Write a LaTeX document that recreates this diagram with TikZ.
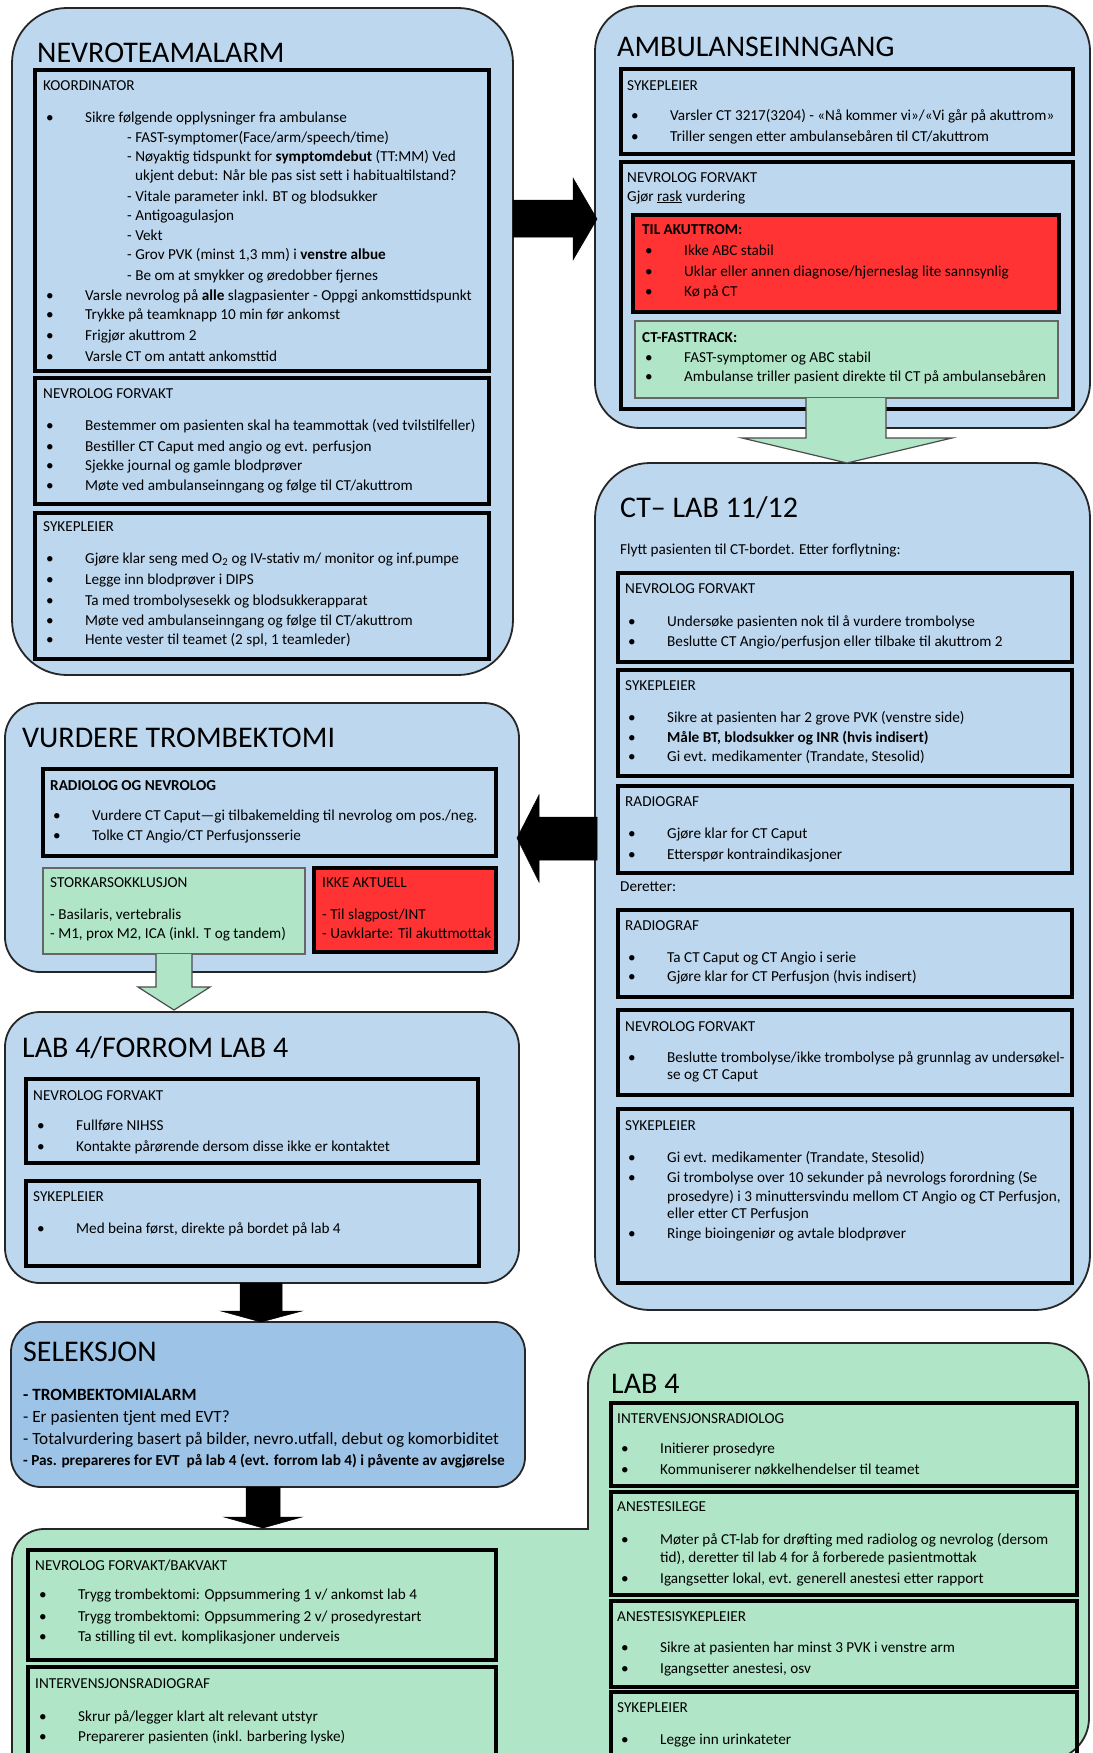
\documentclass[tikz,border=0pt]{standalone}
\usepackage{fontspec}
\setmainfont{Carlito}
\definecolor{lblue}{HTML}{BDD7EE}
\definecolor{mblue}{HTML}{9DC3E6}
\definecolor{lgreen}{HTML}{B0E5C8}
\definecolor{lred}{HTML}{FF3333}
\newcount\lnum
\newcommand\T[3]{\global\advance\lnum by 1\relax\node[txt] (t\the\lnum) at (#1,#2+4) {#3};}
\newcommand\B[3]{\global\advance\lnum by 1\relax\node[txt] (t\the\lnum) at (#1-39,#2+4) {\makebox[39pt][l]{•}#3};}
\newcommand\bx[6]{\node[#2, inner sep=0pt, outer sep=0pt, minimum width={#5-#3}, minimum height={#6-#4}] (#1) at ({(#3+#5)/2},{(#4+#6)/2}) {};}
\begin{document}
\begin{tikzpicture}[x=1pt,y=-1pt,
  outerbox/.style={draw=black!85, line width=1.8pt, fill=lblue},
  innerbox/.style={draw=black, line width=3.2pt},
  redbox/.style={draw=black, line width=3.2pt, fill=lred},
  greenbox/.style={draw=black!60, line width=1.8pt, fill=lgreen},
  txt/.style={anchor=base west, inner sep=0pt, font=\fontsize{15.2}{18}\selectfont, text=black},
  ttl/.style={anchor=base west, inner sep=0pt, font=\fontsize{30}{35}\selectfont, text=black},
  sel/.style={anchor=base west, inner sep=0pt, font=\fontsize{17.2}{20}\selectfont, text=black},
  blockarrow/.style={fill=black, draw=black, line width=0.5pt},
  greenarrow/.style={fill=lgreen, draw=black!70, line width=1.2pt}]
\useasboundingbox (0,0) rectangle (1092,1753);
\clip (0,0) rectangle (1092,1753);
\fill[white] (0,0) rectangle (1092,1753);

% ---------------- NEVROTEAMALARM ----------------
\bx{nevro}{outerbox, rounded corners=55pt}{12}{8}{513}{675}
\node[ttl] (nevrotitle) at (37,63) {NEVROTEAMALARM};
\bx{koord}{innerbox}{35}{70}{489}{371}
\T{43}{86}{KOORDINATOR}
\B{85}{118}{Sikre følgende opplysninger fra ambulanse}
\T{127}{138}{- FAST-symptomer(Face/arm/speech/time)}
\T{127}{157}{- Nøyaktig tidspunkt for \textbf{symptomdebut} (TT:MM) Ved}
\T{135}{176}{ukjent debut: Når ble pas sist sett i habitualtilstand?}
\T{127}{197}{- Vitale parameter inkl. BT og blodsukker}
\T{127}{216}{- Antigoagulasjon}
\T{127}{236}{- Vekt}
\T{127}{255}{- Grov PVK (minst 1,3 mm) i \textbf{venstre albue}}
\T{127}{276}{- Be om at smykker og øredobber fjernes}
\B{85}{296}{Varsle nevrolog på \textbf{alle} slagpasienter - Oppgi ankomsttidspunkt}
\B{85}{315}{Trykke på teamknapp 10 min før ankomst}
\B{85}{336}{Frigjør akuttrom 2}
\B{85}{357}{Varsle CT om antatt ankomsttid}
\bx{nfv1}{innerbox}{35}{378}{489}{504}
\T{43}{394}{NEVROLOG FORVAKT}
\B{85}{426}{Bestemmer om pasienten skal ha teammottak (ved tvilstilfeller)}
\B{85}{447}{Bestiller CT Caput med angio og evt. perfusjon}
\B{85}{466}{Sjekke journal og gamle blodprøver}
\B{85}{486}{Møte ved ambulanseinngang og følge til CT/akuttrom}
\bx{syk1}{innerbox}{35}{513}{489}{659}
\T{43}{527}{SYKEPLEIER}
\B{85}{559}{Gjøre klar seng med O\textsubscript{2} og IV-stativ m/ monitor og inf.pumpe}
\B{85}{580}{Legge inn blodprøver i DIPS}
\B{85}{601}{Ta med trombolysesekk og blodsukkerapparat}
\B{85}{621}{Møte ved ambulanseinngang og følge til CT/akuttrom}
\B{85}{640}{Hente vester til teamet (2 spl, 1 teamleder)}

% ---------------- AMBULANSEINNGANG ----------------
\bx{amb}{outerbox, rounded corners=45pt}{595}{6}{1090}{428}
\node[ttl] (ambtitle) at (617,57) {AMBULANSEINNGANG};
\bx{syk2}{innerbox}{621}{69}{1073}{154}
\T{627}{86}{SYKEPLEIER}
\B{670}{116}{Varsler CT 3217(3204) - «Nå kommer vi»/«Vi går på akuttrom»}
\B{670}{137}{Triller sengen etter ambulansebåren til CT/akuttrom}
\bx{nfv2}{innerbox}{621}{162}{1073}{409}
\T{627}{178}{NEVROLOG FORVAKT}
\T{627}{197}{Gjør \underline{rask} vurdering}
\bx{akutt}{redbox}{633}{215}{1059}{312}
\T{642}{230}{\textbf{TIL AKUTTROM:}}
\B{684}{251}{Ikke ABC stabil}
\B{684}{272}{Uklar  eller annen diagnose/hjerneslag lite sannsynlig}
\B{684}{292}{Kø på CT}
\bx{fast}{greenbox}{635}{321}{1058}{398}
\T{642}{338}{\textbf{CT-FASTTRACK:}}
\B{684}{358}{FAST-symptomer og ABC stabil}
\B{684}{377}{Ambulanse triller pasient direkte til CT på ambulansebåren}

% ---------------- CT LAB ----------------
\bx{ct}{outerbox, rounded corners=55pt}{595}{463}{1090}{1310}
\node[ttl] (cttitle) at (620,517) {CT– LAB 11/12};
\T{620}{550}{Flytt pasienten til CT-bordet. Etter forflytning:}
\bx{nfv3}{innerbox}{618}{573}{1072}{662}
\T{625}{589}{NEVROLOG FORVAKT}
\B{667}{622}{Undersøke pasienten nok til å vurdere trombolyse}
\B{667}{642}{Beslutte CT Angio/perfusjon eller tilbake til akuttrom 2}
\bx{syk3}{innerbox}{618}{670}{1072}{776}
\T{625}{686}{SYKEPLEIER}
\B{667}{718}{Sikre at pasienten har 2 grove PVK (venstre side)}
\B{667}{738}{\textbf{Måle BT, blodsukker og INR (hvis indisert)}}
\B{667}{757}{Gi evt. medikamenter (Trandate, Stesolid)}
\bx{rad1}{innerbox}{618}{786}{1072}{873}
\T{625}{802}{RADIOGRAF}
\B{667}{834}{Gjøre klar for CT Caput}
\B{667}{855}{Etterspør kontraindikasjoner}
\T{620}{887}{Deretter:}
\bx{rad2}{innerbox}{618}{910}{1072}{997}
\T{625}{926}{RADIOGRAF}
\B{667}{958}{Ta CT Caput og CT Angio i serie}
\B{667}{977}{Gjøre klar for CT Perfusjon (hvis indisert)}
\bx{nfv4}{innerbox}{618}{1010}{1072}{1095}
\T{625}{1027}{NEVROLOG FORVAKT}
\B{667}{1058}{Beslutte trombolyse/ikke trombolyse på grunnlag av undersøkel-}
\T{667}{1075}{se og CT Caput}
\bx{syk4}{innerbox}{618}{1109}{1072}{1283}
\T{625}{1126}{SYKEPLEIER}
\B{667}{1158}{Gi evt. medikamenter (Trandate, Stesolid)}
\B{667}{1178}{Gi trombolyse over 10 sekunder på nevrologs forordning (Se}
\T{667}{1197}{prosedyre) i 3 minuttersvindu mellom CT Angio og CT Perfusjon,}
\T{667}{1214}{eller etter CT Perfusjon}
\B{667}{1234}{Ringe bioingeniør og avtale blodprøver}

% ---------------- VURDERE TROMBEKTOMI ----------------
\bx{vurd}{outerbox, rounded corners=35pt}{5}{703}{519}{972}
\node[ttl] (vurdtitle) at (22,747) {VURDERE TROMBEKTOMI};
\bx{radnev}{innerbox}{43}{769}{496}{856}
\T{50}{786}{\textbf{RADIOLOG OG NEVROLOG}}
\B{92}{816}{Vurdere CT Caput—gi tilbakemelding til nevrolog om pos./neg.}
\B{92}{836}{Tolke CT Angio/CT Perfusjonsserie}
\bx{stork}{greenbox}{43}{868}{305}{954}
\T{50}{883}{STORKARSOKKLUSJON}
\T{50}{915}{- Basilaris, vertebralis}
\T{50}{934}{- M1, prox M2, ICA (inkl. T og tandem)}
\bx{ikke}{redbox}{314}{868}{496}{952}
\T{322}{883}{IKKE AKTUELL}
\T{322}{915}{- Til slagpost/INT}
\T{322}{934}{- Uavklarte: Til akuttmottak}

% ---------------- LAB 4 / FORROM ----------------
\bx{forrom}{outerbox, rounded corners=35pt}{5}{1012}{519}{1283}
\node[ttl] (forromtitle) at (22,1057) {LAB 4/FORROM LAB 4};
\bx{nfv5}{innerbox}{26}{1079}{478}{1163}
\T{33}{1096}{NEVROLOG FORVAKT}
\B{76}{1126}{Fullføre NIHSS}
\B{76}{1147}{Kontakte pårørende dersom disse ikke er kontaktet}
\bx{syk5}{innerbox}{26}{1181}{479}{1266}
\T{33}{1197}{SYKEPLEIER}
\B{76}{1229}{Med beina først, direkte på bordet på lab 4}

% ---------------- SELEKSJON ----------------
\bx{sel}{draw=black!85, line width=1.8pt, fill=mblue, rounded corners=30pt}{11}{1322}{525}{1487}
\node[ttl] (seltitle) at (23,1361) {SELEKSJON};
\node[sel] (s1) at (23,1400) {\textbf{- TROMBEKTOMIALARM}};
\node[sel] (s2) at (23,1422) {- Er pasienten tjent med EVT?};
\node[sel] (s3) at (23,1444) {- Totalvurdering basert på bilder, nevro.utfall, debut og komorbiditet};
\node[sel, font=\fontsize{15.3}{18}\selectfont\bfseries] (s4) at (23,1465) {- Pas. prepareres for EVT\ \ på lab 4 (evt. forrom lab 4) i påvente av avgjørelse};

% ---------------- LAB 4 (green) ----------------
\draw[draw=black!85, line width=1.8pt, fill=lgreen]
  (12,1760) -- (12,1561) .. controls (12,1543.3) and (26.3,1529) .. (44,1529)
  -- (588,1529) -- (588,1385) .. controls (588,1361.8) and (606.8,1343) .. (630,1343)
  -- (1047,1343) .. controls (1070.2,1343) and (1089,1361.8) .. (1089,1385)
  -- (1089,1718) .. controls (1089,1741.2) and (1070.2,1760) .. (1047,1760) -- cycle;
\node[ttl] (lab4title) at (611,1393) {LAB 4};
\bx{irad}{innerbox}{611}{1403}{1077}{1486}
\T{617}{1419}{INTERVENSJONSRADIOLOG}
\B{660}{1449}{Initierer prosedyre}
\B{660}{1470}{Kommuniserer nøkkelhendelser til teamet}
\bx{anl}{innerbox}{611}{1492}{1077}{1595}
\T{617}{1507}{ANESTESILEGE}
\B{660}{1540}{Møter på CT-lab for drøfting med radiolog og nevrolog (dersom}
\T{660}{1558}{tid), deretter til lab 4 for å forberede pasientmottak}
\B{660}{1579}{Igangsetter lokal, evt. generell anestesi etter rapport}
\bx{ans}{innerbox}{611}{1601}{1077}{1687}
\T{617}{1617}{ANESTESISYKEPLEIER}
\B{660}{1648}{Sikre at pasienten har minst 3 PVK i venstre arm}
\B{660}{1669}{Igangsetter anestesi, osv}
\bx{syk6}{innerbox}{611}{1692}{1077}{1775}
\T{617}{1708}{SYKEPLEIER}
\B{660}{1740}{Legge inn urinkateter}
\bx{bak}{innerbox}{28}{1550}{496}{1660}
\T{35}{1566}{NEVROLOG FORVAKT/BAKVAKT}
\B{78}{1595}{Trygg trombektomi: Oppsummering 1 v/ ankomst lab 4}
\B{78}{1617}{Trygg trombektomi: Oppsummering 2 v/ prosedyrestart}
\B{78}{1637}{Ta stilling til evt. komplikasjoner underveis}
\bx{irg}{innerbox}{28}{1667}{496}{1775}
\T{35}{1684}{INTERVENSJONSRADIOGRAF}
\B{78}{1717}{Skrur på/legger klart alt relevant utstyr}
\B{78}{1737}{Preparerer pasienten (inkl. barbering lyske)}

% ---------------- block arrows ----------------
\draw[blockarrow] (513,200) -- (573,200) -- (573,178) -- (597,219) -- (573,260) -- (573,237) -- (513,237) -- cycle;
\draw[blockarrow] (597,817) -- (539,817) -- (539,795) -- (517,838) -- (539,882) -- (539,860) -- (597,860) -- cycle;
\draw[greenarrow] (806,398) -- (806,438) -- (742,438) -- (847,463) -- (952,438) -- (886,438) -- (886,398);
\draw[greenarrow] (156,954) -- (156,987) -- (138,987) -- (174,1010) -- (210,987) -- (192,987) -- (192,954);
\draw[blockarrow] (240,1283) -- (240,1311) -- (221,1311) -- (261,1322) -- (302,1311) -- (282,1311) -- (282,1283) -- cycle;
\draw[blockarrow] (246,1487) -- (246,1517) -- (224,1517) -- (263,1528) -- (302,1517) -- (280,1517) -- (280,1487) -- cycle;
\end{tikzpicture}
\end{document}
